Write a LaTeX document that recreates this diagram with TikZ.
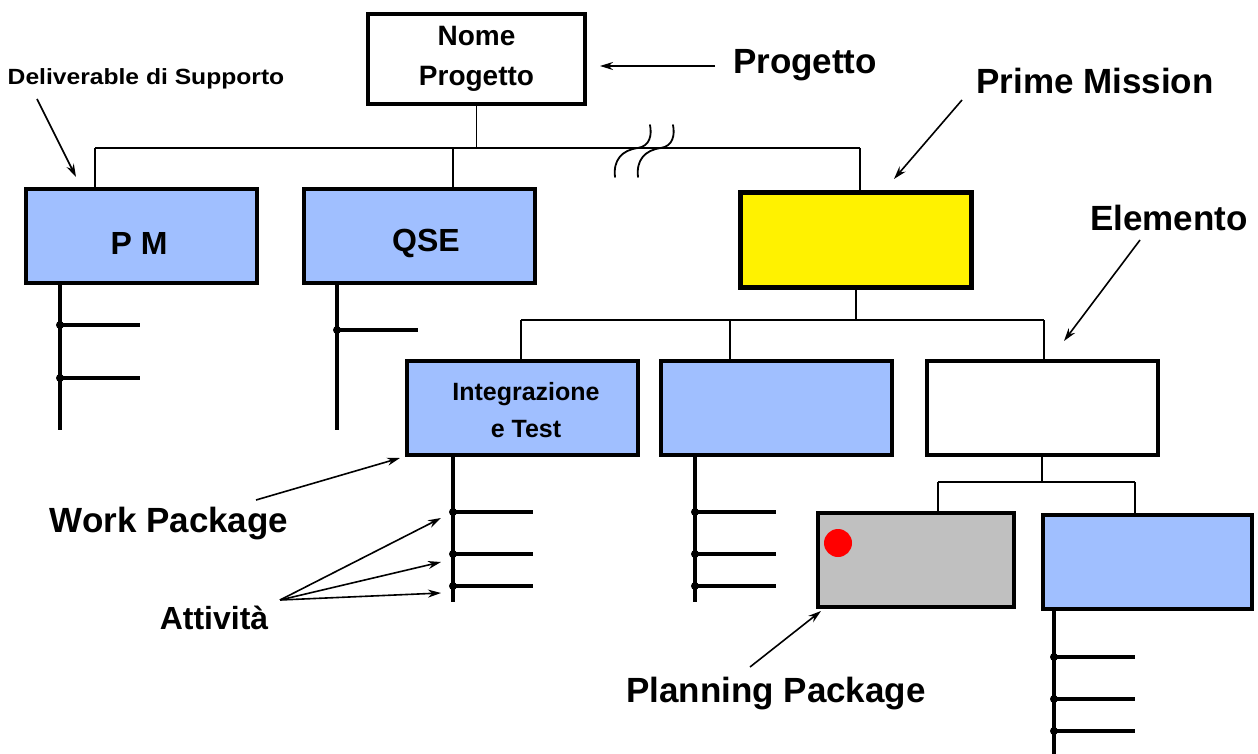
\documentclass[tikz,border=0pt]{standalone}
\usepackage{fontspec}
\setmainfont{Liberation Sans}
\usetikzlibrary{arrows.meta}
\definecolor{wpblue}{RGB}{160,191,255}
\definecolor{ppgray}{RGB}{192,192,192}
\tikzset{
  box/.style={draw=black, line width=4pt, minimum width=231pt, minimum height=94pt,
    inner sep=0pt, align=center},
  bluebox/.style={box, fill=wpblue},
  boxtext/.style={font=\fontsize{32}{36}\selectfont\bfseries, inner sep=0pt, align=center},
  bus/.style={draw=black, line width=1.8pt},
  act/.style={draw=black, line width=4pt},
  jdot/.style={fill=black, circle, inner sep=0pt, minimum size=8pt},
  callout/.style={draw=black, line width=1.6pt, -{Stealth[length=13pt,width=8pt]}},
  biglabel/.style={font=\fontsize{35}{40}\selectfont\bfseries, inner sep=0pt},
}
\begin{document}
\begin{tikzpicture}[x=1pt,y=-1pt]
\useasboundingbox (0,0) rectangle (1258,754);

% ---- boxes ----
\node[box, minimum width=217pt, minimum height=90pt, font=\fontsize{28}{40}\selectfont\bfseries]
  (nome) at (476.5,59) {Nome\\Progetto};
\node[bluebox] (pm) at (141.5,236) {};
\node[boxtext] (pmlab) at (139,243) {P M};
\node[bluebox] (qse) at (419,236) {};
\node[boxtext] (qselab) at (426,243) {QSE};
\node[box, fill=yellow, line width=5pt] (prime) at (856,240) {};
\node[bluebox] (it) at (522.5,408) {};
\node[boxtext, font=\fontsize{25}{37}\selectfont\bfseries] (itlab) at (526,410) {Integrazione\\e Test};
\node[bluebox] (wp2) at (776,408) {};
\node[box, fill=white] (elem) at (1042,408) {};
\node[box, fill=ppgray, minimum width=196pt] (pp) at (915.5,560) {};
\node[bluebox, minimum width=209pt] (wp3) at (1147,562) {};
\fill[red] (838,543) circle (14pt);

% ---- bus lines ----
\coordinate (b0) at (95,148);
\coordinate (b1) at (453,148);
\coordinate (b2) at (860,148);
\draw[bus] (nome.south) -- (nome.south |- b0);
\draw[bus] (b0) -- (b2);
\draw[bus] (b0) -- (b0 |- pm.north);
\draw[bus] (b1) -- (b1 |- qse.north);
\draw[bus] (b2) -- (b2 |- prime.north);

% break marks on the top bus
\foreach \dx in {0,23} {
  \draw[black, line width=1.8pt, line cap=round]
    (615+\dx,177) .. controls (613+\dx,160) and (622+\dx,150) .. (638+\dx,148)
    .. controls (650+\dx,146) and (652+\dx,135) .. (650+\dx,125);
}

\coordinate (c0) at (521,320);
\coordinate (c1) at (730,320);
\coordinate (c2) at (1044,320);
\draw[bus] (prime.south) -- (prime.south |- c0);
\draw[bus] (c0) -- (c2);
\draw[bus] (c0) -- (c0 |- it.north);
\draw[bus] (c1) -- (c1 |- wp2.north);
\draw[bus] (c2) -- (c2 |- elem.north);

\coordinate (d0) at (938,482);
\coordinate (d1) at (1135,482);
\draw[bus] (elem.south) -- (elem.south |- d0);
\draw[bus] (d0) -- (d1);
\draw[bus] (d0) -- (d0 |- pp.north);
\draw[bus] (d1) -- (d1 |- wp3.north);

% ---- activity ladders ----
% P M
\coordinate (pmt) at (60,430);
\draw[act] (pmt |- pm.south) -- (pmt);
\foreach \y in {325,378} {
  \draw[act] (60,\y) -- (140,\y);
  \node[jdot] at (60,\y) {};
}
% QSE
\coordinate (qset) at (337,430);
\draw[act] (qset |- qse.south) -- (qset);
\draw[act] (337,330) -- (418,330);
\node[jdot] at (337,330) {};
% Integrazione e Test
\coordinate (itt) at (453,602);
\draw[act] (itt |- it.south) -- (itt);
\foreach \y in {512,554,586} {
  \draw[act] (453,\y) -- (533,\y);
  \node[jdot] at (453,\y) {};
}
% second work package
\coordinate (wp2t) at (695,602);
\draw[act] (wp2t |- wp2.south) -- (wp2t);
\foreach \y in {512,554,586} {
  \draw[act] (695,\y) -- (776,\y);
  \node[jdot] at (695,\y) {};
}
% third work package
\coordinate (wp3t) at (1054,754);
\draw[act] (wp3t |- wp3.south) -- (wp3t);
\foreach \y in {657,699,731} {
  \draw[act] (1054,\y) -- (1135,\y);
  \node[jdot] at (1054,\y) {};
}

% ---- labels and callouts ----
\node[biglabel] (lprog) at (805,65) {Progetto};
\draw[callout] (715,66) -- (600,66);

\node[biglabel] (lprime) at (1095,81) {Prime Mission};
\draw[callout] (962,100) -- (894,179);

\node[font=\fontsize{22}{26}\selectfont\bfseries, inner sep=0pt] (ldel) at (146,79)
  {\scalebox{1.12}[1]{Deliverable di Supporto}};
\draw[callout] (37,99) -- (76,177);

\node[biglabel] (lelem) at (1169,218) {Elemento};
\draw[callout] (1140,240) -- (1064,341);

\node[biglabel] (lwp) at (169,524) {Work Package};
\draw[callout] (256,500) -- (400,458);

\node[font=\fontsize{32}{36}\selectfont\bfseries, inner sep=0pt] (latt) at (214,618) {Attività};
\draw[callout] (280,600) -- (441,518);
\draw[callout] (280,600) -- (441,562);
\draw[callout] (280,600) -- (441,593);

\node[biglabel] (lpp) at (776,694) {Planning Package};
\draw[callout] (750,667) -- (821,611);
\end{tikzpicture}
\end{document}
